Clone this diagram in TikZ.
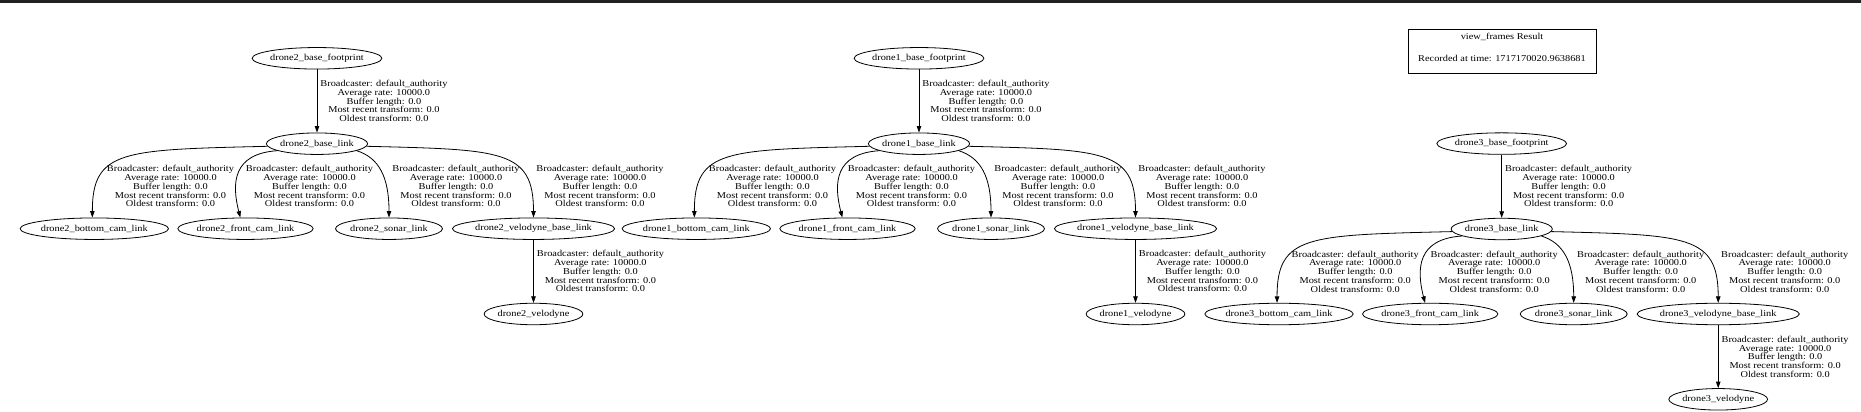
\documentclass[tikz,border=0pt]{standalone}
\usepackage{fontspec}
\newfontfamily\gvfont{Liberation Serif}[FakeStretch=1.15]
\usetikzlibrary{shapes.geometric,arrows.meta}

\newcommand{\tflbl}{Broadcaster: default\_authority\\Average rate: 10000.0\\Buffer length: 0.0\\Most recent transform: 0.0\\Oldest transform: 0.0}

\begin{document}
\begin{tikzpicture}[x=1pt, y=1pt,
        tfnode/.style={ellipse, draw, line width=0.8pt, inner xsep=-1pt, inner ysep=0pt,
                minimum height=21.5pt, font=\gvfont\fontsize{9pt}{8.75pt}\selectfont},
        tflabel/.style={align=center, inner sep=0pt, font=\gvfont\fontsize{9pt}{8.75pt}\selectfont},
        tfedge/.style={line width=0.8pt, -{Triangle[length=6.5pt,width=4.5pt]}}]
                \path (0, 0) rectangle (1861, 412);
                \fill[black!87] (0, 409.3) rectangle (1861, 412);
                \node[draw, line width=1pt, minimum width=188pt, minimum height=43.6pt,
                        tflabel] (res) at (1502, 360.5)
                        {view\_frames Result\\[13pt]Recorded at time: 1717170020.9638681\\\mbox{}};
                \foreach \drn/\gx/\gy in {2/0/0, 1/602/0, 3/1184.7/-85.3} {
                        \begin{scope}[shift={(\gx, \gy)}]
                                \node[tfnode] (fp\drn) at (317, 353.7) {drone\drn\_base\_footprint};
                                \node[tfnode] (bl\drn) at (317, 268.3) {drone\drn\_base\_link};
                                \node[tfnode] (bc\drn) at (94.3, 183.3) {drone\drn\_bottom\_cam\_link};
                                \node[tfnode] (fc\drn) at (245.5, 183.3) {drone\drn\_front\_cam\_link};
                                \node[tfnode] (so\drn) at (389, 183.3) {drone\drn\_sonar\_link};
                                \node[tfnode] (vb\drn) at (533.5, 183.3) {drone\drn\_velodyne\_base\_link};
                                \node[tfnode] (ve\drn) at (533.5, 98) {drone\drn\_velodyne};
                                \draw[tfedge] (fp\drn) -- node[tflabel, right=3pt] {\tflbl} (bl\drn);
                                \draw[tfedge] (vb\drn) -- node[tflabel, right=3pt] {\tflbl} (ve\drn);
                                \draw[tfedge] (bl\drn.183) .. controls +(-144, -3.5) and +(0, 68) .. (bc\drn.100);
                                \draw[tfedge] (bl\drn.190) .. controls +(-44.7, -3) and +(-8.7, 34.3) .. (fc\drn.115);
                                \draw[tfedge] (bl\drn.350) .. controls +(22, -7) and +(0, 41) .. (so\drn.north);
                                \draw[tfedge] (bl\drn.357) .. controls +(135, -3.3) and +(0, 68) .. (vb\drn.north);
                                \node[tflabel] (lbc\drn) at (170.5, 225.8) {\tflbl};
                                \node[tflabel] (lfc\drn) at (309.5, 225.8) {\tflbl};
                                \node[tflabel] (lso\drn) at (456, 225.8) {\tflbl};
                                \node[tflabel] (lvb\drn) at (600, 225.8) {\tflbl};
                        \end{scope}
                }
        \end{tikzpicture}
\end{document}
